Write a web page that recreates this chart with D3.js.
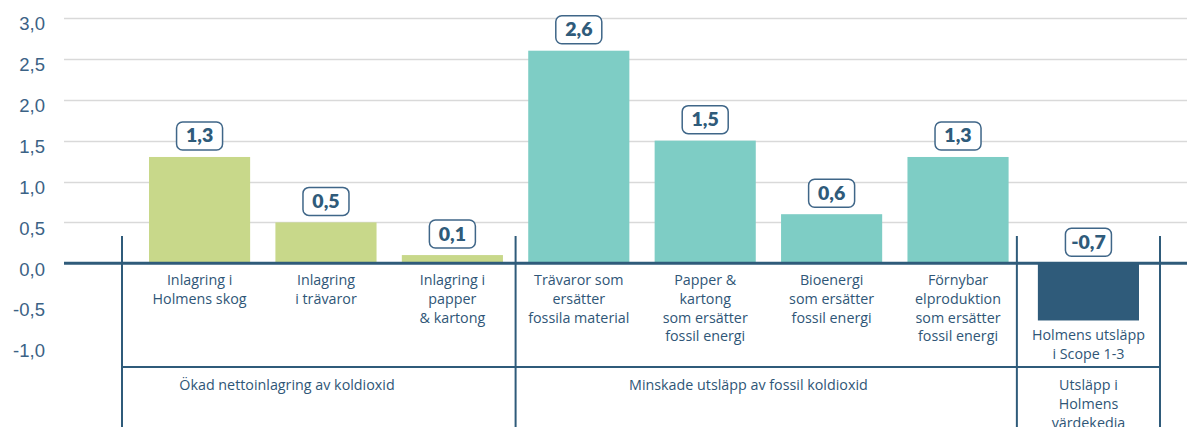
<!DOCTYPE html>
<html>
<head>
<meta charset="utf-8">
<script src="https://cdn.jsdelivr.net/npm/d3@7"></script>
<style>
  html, body { margin: 0; padding: 0; background: #fff; }
  svg { display: block; }
</style>
</head>
<body>
<svg id="chart" width="1187" height="427"></svg>
<script>
// ---- data ----
const categories = [
  "Inlagring i\nHolmens skog",
  "Inlagring\ni trävaror",
  "Inlagring i\npapper\n& kartong",
  "Trävaror som\nersätter\nfossila material",
  "Papper &\nkartong\nsom ersätter\nfossil energi",
  "Bioenergi\nsom ersätter\nfossil energi",
  "Förnybar\nelproduktion\nsom ersätter\nfossil energi",
  "Holmens utsläpp\ni Scope 1-3"
];
const values = [1.3, 0.5, 0.1, 2.6, 1.5, 0.6, 1.3, -0.7];
const valueLabels = ["1,3", "0,5", "0,1", "2,6", "1,5", "0,6", "1,3", "-0,7"];
const groupOf = [0, 0, 0, 1, 1, 1, 1, 2];
const groupNames = [
  "Ökad nettoinlagring av koldioxid",
  "Minskade utsläpp av fossil koldioxid",
  "Utsläpp i\nHolmens\nvärdekedja"
];
const yTicks = [-1.0, -0.5, 0.0, 0.5, 1.0, 1.5, 2.0, 2.5, 3.0];
const gridTicks = [0.5, 1.0, 1.5, 2.0, 2.5, 3.0];

// ---- style ----
const groupColors = ["#c8d88a", "#7ecdc5", "#2f5b7a"];
const navy = "#2f5b7a";
const textColor = "#2f5677";
const gridColor = "#d9d9d9";

const svg = d3.select("#chart");
const W = 1187, H = 427;

const x0 = d3.scaleBand().domain(categories).range([149, 1135])
  .paddingInner(0.2).paddingOuter(0);
const bw = x0.bandwidth();
const lastGroupGap = 4;
const x = c => x0(c) + (groupOf[categories.indexOf(c)] === 2 ? lastGroupGap : 0);
const y = d3.scaleLinear().domain([-1, 3]).range([345, 18]);

// gridlines
svg.append("g").selectAll("line").data(gridTicks).join("line")
  .attr("x1", 64).attr("x2", W)
  .attr("y1", d => Math.round(y(d)) + 0.5).attr("y2", d => Math.round(y(d)) + 0.5)
  .attr("stroke", gridColor).attr("stroke-width", 1.5);

// y axis labels
const yAxis = d3.axisLeft(y).tickValues(yTicks)
  .tickFormat(d => d3.format(".1f")(d).replace(".", ",").replace("−", "-"))
  .tickSize(0).tickPadding(0);
const gy = svg.append("g").attr("transform", "translate(45,0)").call(yAxis);
gy.select(".domain").remove();
gy.selectAll("text")
  .attr("font-family", "'Liberation Sans', Arial, sans-serif")
  .attr("font-size", 18.5).attr("fill", "#3b6285")
  .attr("dy", "0.72em").attr("y", -1.5);

// bars
svg.append("g").selectAll("rect").data(values).join("rect")
  .attr("x", (d, i) => x(categories[i]))
  .attr("width", bw)
  .attr("y", d => y(Math.max(0, d)))
  .attr("height", d => Math.abs(y(d) - y(0)))
  .attr("fill", (d, i) => groupColors[groupOf[i]]);

// zero line
svg.append("line")
  .attr("x1", 64).attr("x2", W)
  .attr("y1", y(0)).attr("y2", y(0))
  .attr("stroke", navy).attr("stroke-width", 3);

// separators
const sepX = [
  x(categories[0]) - 27,
  (x(categories[2]) + bw + x(categories[3])) / 2,
  x(categories[7]) - 21,
  x(categories[7]) + bw + 21
];
svg.append("g").selectAll("line").data(sepX).join("line")
  .attr("x1", d => d).attr("x2", d => d)
  .attr("y1", 236).attr("y2", H)
  .attr("stroke", navy).attr("stroke-width", 2);
svg.append("line")
  .attr("x1", sepX[0]).attr("x2", sepX[3])
  .attr("y1", 367).attr("y2", 367)
  .attr("stroke", navy).attr("stroke-width", 2);

// value label boxes
const lbl = svg.append("g").selectAll("g").data(values).join("g")
  .attr("transform", (d, i) => {
    const cx = x(categories[i]) + bw / 2;
    const top = y(Math.max(0, d));
    return `translate(${cx},${top - 7})`;
  });
lbl.append("rect")
  .attr("x", -23).attr("y", -28).attr("width", 46).attr("height", 28)
  .attr("rx", 6).attr("ry", 6)
  .attr("fill", "#fff").attr("stroke", "#3f6688").attr("stroke-width", 1.5);
lbl.append("text")
  .attr("text-anchor", "middle").attr("y", -7.5)
  .attr("font-family", "Lato, 'Open Sans', sans-serif")
  .attr("font-weight", 800).attr("font-size", 19.5)
  .attr("fill", navy)
  .text((d, i) => valueLabels[i]);

// category labels
const catFont = "'Open Sans', 'Noto Sans', sans-serif";
svg.append("g").selectAll("text").data(categories).join("text")
  .attr("text-anchor", "middle")
  .attr("font-family", catFont).attr("font-size", 14.3)
  .attr("fill", textColor)
  .attr("transform", (d, i) => {
    const cx = x(d) + bw / 2;
    const base = values[i] < 0 ? y(values[i]) + 20 : y(0) + 22;
    return `translate(${cx},${base})`;
  })
  .each(function(d) {
    d3.select(this).selectAll("tspan").data(d.split("\n")).join("tspan")
      .attr("x", 0).attr("dy", (t, j) => j === 0 ? 0 : 18.7).text(t => t);
  });

// group labels
const groupCenters = [
  (x(categories[0]) + x(categories[2]) + bw) / 2 - 39,
  (x(categories[3]) + x(categories[6]) + bw) / 2 - 20,
  x(categories[7]) + bw / 2
];
svg.append("g").selectAll("text").data(groupNames).join("text")
  .attr("text-anchor", "middle")
  .attr("font-family", catFont).attr("font-size", 14.3)
  .attr("fill", textColor)
  .attr("transform", (d, i) => `translate(${groupCenters[i]},390)`)
  .each(function(d) {
    d3.select(this).selectAll("tspan").data(d.split("\n")).join("tspan")
      .attr("x", 0).attr("dy", (t, j) => j === 0 ? 0 : 19).text(t => t);
  });
</script>
</body>
</html>
